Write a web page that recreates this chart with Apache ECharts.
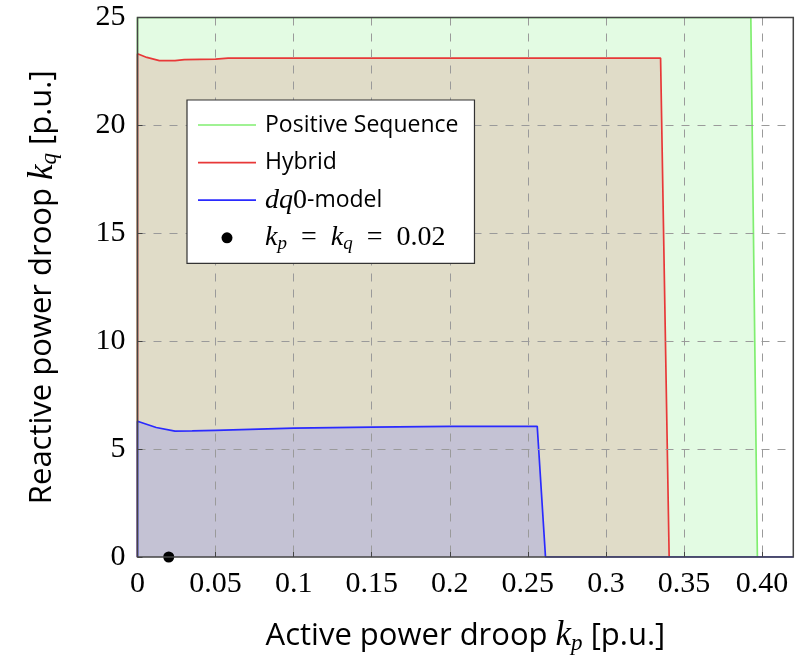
<!DOCTYPE html>
<html>
<head>
<meta charset="utf-8">
<script src="https://cdn.jsdelivr.net/npm/echarts@6/dist/echarts.min.js"></script>
<style>html,body{margin:0;padding:0;background:#fff}#c{width:800px;height:660px}</style>
</head>
<body>
<div id="c"></div>
<script>
// Data (kp, kq) boundary points of stability regions
const positiveSeq = [[0,0],[0,25],[0.3928,25],[0.397,0]];
const hybrid = [[0,0],[0,23.32],[0.006,23.15],[0.014,23.0],[0.024,23.0],[0.03,23.05],[0.05,23.07],[0.058,23.12],[0.2,23.12],[0.335,23.12],[0.3405,0]];
const dq0 = [[0,0],[0,6.29],[0.012,6.0],[0.024,5.83],[0.035,5.84],[0.05,5.87],[0.1,5.97],[0.15,6.02],[0.2,6.05],[0.256,6.06],[0.2613,0],[0.42,0]];
const operatingPoint = [[0.02,0]];
const xTickLabels = ['0','0.05','0.1','0.15','0.2','0.25','0.3','0.35','0.40'];
const yTickLabels = ['0','5','10','15','20','25'];

const serif = 'Liberation Serif';
const sans = 'Open Sans';
const lineIcon = 'path://M0,0 L58,0 L58,1.7 L0,1.7 Z';
const chart = echarts.init(document.getElementById('c'));
chart.setOption({
  animation: false,
  grid: {left: 137.5, right: 6.7, top: 17.5, bottom: 97.5, show: true, borderColor: '#444', borderWidth: 1.5, backgroundColor: 'transparent', z: 10},
  legend: {
    orient: 'vertical', left: 187, top: 100, z: 20,
    backgroundColor: '#fff', borderColor: '#333', borderWidth: 1.2,
    padding: [11, 16, 10, 11], itemWidth: 58, itemHeight: 11, itemGap: 9.6,
    textStyle: {fontFamily: sans, fontSize: 23, color: '#000', lineHeight: 28,
      rich: {
        m: {fontFamily: serif, fontStyle: 'italic', fontSize: 28, color: '#000'},
        n: {fontFamily: serif, fontSize: 28, color: '#000'},
        s: {fontFamily: serif, fontStyle: 'italic', fontSize: 19, color: '#000', padding: [12,0,0,0]},
        t: {fontFamily: sans, fontSize: 23, color: '#000'},
        g: {fontSize: 21, width: 4}
      }},
    data: [
      {name: 'Positive Sequence', icon: lineIcon},
      {name: 'Hybrid', icon: lineIcon},
      {name: 'dq0-model', icon: lineIcon},
      {name: 'op', icon: 'circle', itemStyle: {color: '#000', opacity: 1}}
    ],
    formatter: function (name) {
      if (name === 'dq0-model') return '{g|}{m|dq}{n|0}{t|-model}';
      if (name === 'op') return '{g|}{m|k}{s|p}{n|  =  }{m|k}{s|q}{n|  =  0.02}';
      return '{g|}{t|' + name + '}';
    }
  },
  xAxis: {
    type: 'value', min: 0, max: 0.42, interval: 0.05, z: 4,
    name: 'Active power droop {m|k}{s|p} [p.u.]', nameLocation: 'middle', nameGap: 60,
    nameTextStyle: {fontFamily: sans, fontSize: 31, color: '#000',
      rich: {m: {fontFamily: serif, fontStyle: 'italic', fontSize: 35, color: '#000'},
             s: {fontFamily: serif, fontStyle: 'italic', fontSize: 23, color: '#000', padding: [15,0,0,0]}}},
    axisLine: {show: false},
    axisTick: {show: true, inside: true, length: 5, lineStyle: {color: '#444'}},
    axisLabel: {fontFamily: serif, fontSize: 30, color: '#000', margin: 12,
      formatter: function (v) { const i = Math.round(v / 0.05); return (Math.abs(v - i * 0.05) < 1e-6 && i < xTickLabels.length) ? xTickLabels[i] : ''; }},
    splitLine: {show: true, showMinLine: false, showMaxLine: false, lineStyle: {color: '#9a9a9a', type: [8, 8], width: 1}}
  },
  yAxis: {
    type: 'value', min: 0, max: 25, interval: 5, z: 4,
    name: 'Reactive power droop {m|k}{s|q} [p.u.]', nameLocation: 'middle', nameGap: 76,
    nameTextStyle: {fontFamily: sans, fontSize: 31, color: '#000',
      rich: {m: {fontFamily: serif, fontStyle: 'italic', fontSize: 35, color: '#000'},
             s: {fontFamily: serif, fontStyle: 'italic', fontSize: 23, color: '#000', padding: [15,0,0,0]}}},
    axisLine: {show: false},
    axisTick: {show: true, inside: true, length: 5, lineStyle: {color: '#444'}},
    axisLabel: {fontFamily: serif, fontSize: 30, color: '#000', margin: 12,
      formatter: function (v) { const i = Math.round(v / 5); return yTickLabels[i] || ''; }},
    splitLine: {show: true, showMinLine: false, showMaxLine: false, lineStyle: {color: '#9a9a9a', type: [8, 8], width: 1}}
  },
  series: [
    {name: 'Positive Sequence', type: 'line', data: positiveSeq, symbol: 'none',
     lineStyle: {color: '#80ee70', width: 1.7}, itemStyle: {color: '#80ee70'},
     areaStyle: {color: '#e3fbe3', opacity: 1}, z: 1},
    {name: 'Hybrid', type: 'line', data: hybrid, symbol: 'none',
     lineStyle: {color: '#e83838', width: 1.7}, itemStyle: {color: '#e83838'},
     areaStyle: {color: '#e0dcc8', opacity: 1}, z: 2},
    {name: 'dq0-model', type: 'line', data: dq0, symbol: 'none',
     lineStyle: {color: '#2a2aff', width: 1.7}, itemStyle: {color: '#2a2aff'},
     areaStyle: {color: '#c4c2d4', opacity: 1}, z: 3},
    {name: 'op', type: 'scatter', data: operatingPoint, symbol: 'circle', symbolSize: 11,
     itemStyle: {color: '#000', opacity: 1}, clip: false, z: 5}
  ]
});
</script>
</body>
</html>
